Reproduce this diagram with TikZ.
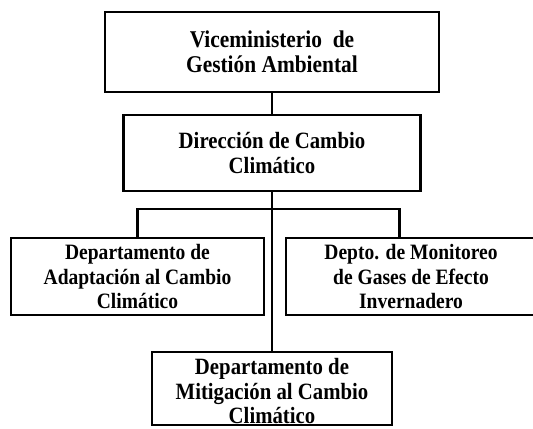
\documentclass[tikz,border=0pt]{standalone}
\usepackage{fontspec}
\setmainfont[FakeStretch=0.89]{Liberation Serif}
\begin{document}
\begin{tikzpicture}[line width=2pt]
    \useasboundingbox (0,0) rectangle (13.325,10.7);
    \begin{scope}[align=center]
      \tikzstyle{every node}=[draw,line width=2pt,inner sep=0pt]
      \node[minimum width=8.35cm,minimum height=2cm,font=\bfseries\fontsize{17.1}{17.8}\selectfont] (vice) at (6.8,9.4) {Viceministerio~ de\\Gestión Ambiental};
      \node[minimum width=7.425cm,minimum height=1.9cm,font=\bfseries\fontsize{16.6}{17.8}\selectfont] (dir) at (6.8,6.875) {Dirección de Cambio\\Climático};
      \node[minimum width=6.325cm,minimum height=1.925cm,font=\bfseries\fontsize{15.6}{17.1}\selectfont] (adap) at (3.4375,3.7875) {Departamento de\\Adaptación al Cambio\\Climático};
      \node[minimum width=6.25cm,minimum height=1.925cm,font=\bfseries\fontsize{15.6}{17.1}\selectfont] (moni) at (10.275,3.7875) {Depto. de Monitoreo\\de Gases de Efecto\\Invernadero};
      \node[minimum width=6cm,minimum height=1.825cm] (miti) at (6.8,0.9875) {};
      \node[draw=none,anchor=north,font=\bfseries\fontsize{16.6}{17.1}\selectfont] (mitiText) at ([yshift=-0.17cm]miti.north) {Departamento de\\Mitigación al Cambio\\Climático};
    \end{scope}

    \coordinate (br) at (6.8,5.475);
    \draw (vice) -- (dir);
    \draw (dir) -- (miti);
    \draw (adap.north) |- (br) -| ([xshift=2.875cm]moni.north west);
\end{tikzpicture}
\end{document}
